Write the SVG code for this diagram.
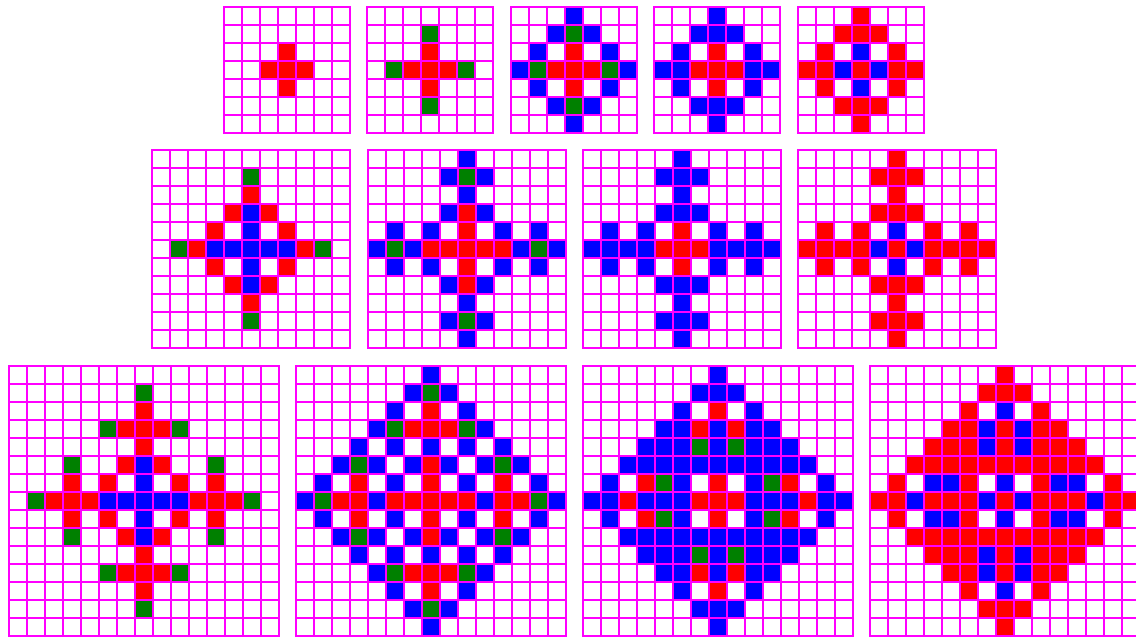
<svg xmlns="http://www.w3.org/2000/svg" width="1136" height="638" viewBox="0 0 1136 638">
<style>
.r{fill:#ff0000}.b{fill:#0000ff}.g{fill:#008000}
.bg{fill:#ffffff}
.ln{fill:url(#lines);stroke:#ff00ff;stroke-width:2}
</style>
<defs>
<pattern id="lines" width="18" height="18" patternUnits="userSpaceOnUse"><path d="M0.5 0V18M17.5 0V18M0 0.5H18M0 17.5H18" stroke="#ff00ff" stroke-width="1" fill="none"/></pattern>
<path id="u7" d="M54 0h18v126h-18zM36 18h54v18h-54zM36 90h54v18h-54zM0 54h126v18h-126zM18 36h18v54h-18zM90 36h18v54h-18z"/>
<path id="p7" d="M54 36h18v54h-18zM36 54h54v18h-54z"/>
<path id="g7" d="M54 18h18v18h-18zM18 54h18v18h-18zM90 54h18v18h-18zM54 90h18v18h-18z"/>
<path id="b5" d="M54 36h18v18h-18zM36 54h18v18h-18zM72 54h18v18h-18zM54 72h18v18h-18z"/>
<path id="u11" d="M90 0h18v198h-18zM72 18h54v18h-54zM72 54h54v18h-54zM72 126h54v18h-54zM72 162h54v18h-54zM0 90h198v18h-198zM18 72h18v54h-18zM54 72h18v54h-18zM126 72h18v54h-18zM162 72h18v54h-18z"/>
<path id="plus11" d="M90 54h18v90h-18zM54 90h90v18h-90z"/>
<path id="g11" d="M90 18h18v18h-18zM18 90h18v18h-18zM162 90h18v18h-18zM90 162h18v18h-18z"/>
<path id="u15" d="M126 0h18v18h-18zM108 18h54v18h-54zM90 36h18v18h-18zM126 36h18v18h-18zM162 36h18v18h-18zM72 54h126v18h-126zM54 72h162v18h-162zM36 90h198v18h-198zM18 108h18v54h-18zM54 108h54v54h-54zM126 108h18v54h-18zM162 108h54v54h-54zM234 108h18v54h-18zM0 126h270v18h-270zM36 162h198v18h-198zM54 180h162v18h-162zM72 198h126v18h-126zM90 216h18v18h-18zM126 216h18v18h-18zM162 216h18v18h-18zM108 234h54v18h-54zM126 252h18v18h-18z"/>
<path id="g15" d="M126 18h18v18h-18zM90 54h18v18h-18zM162 54h18v18h-18zM54 90h18v18h-18zM198 90h18v18h-18zM18 126h18v18h-18zM234 126h18v18h-18zM54 162h18v18h-18zM198 162h18v18h-18zM90 198h18v18h-18zM162 198h18v18h-18zM126 234h18v18h-18z"/>
</defs>
<rect width="1136" height="638" fill="#ffffff"/>

<g id="grid-1-1" transform="translate(224,7)">
<rect class="bg" width="126" height="126"/>
<use href="#p7" class="r"/>
<rect class="ln" width="126" height="126"/>
</g>
<g id="grid-1-2" transform="translate(367,7)">
<rect class="bg" width="126" height="126"/>
<use href="#p7" class="r"/>
<use href="#g7" class="g"/>
<rect class="ln" width="126" height="126"/>
</g>
<g id="grid-1-3" transform="translate(511,7)">
<rect class="bg" width="126" height="126"/>
<use href="#u7" class="b"/>
<use href="#p7" class="r"/>
<use href="#g7" class="g"/>
<rect class="ln" width="126" height="126"/>
</g>
<g id="grid-1-4" transform="translate(654,7)">
<rect class="bg" width="126" height="126"/>
<use href="#u7" class="b"/>
<use href="#p7" class="r"/>
<rect class="ln" width="126" height="126"/>
</g>
<g id="grid-1-5" transform="translate(798,7)">
<rect class="bg" width="126" height="126"/>
<use href="#u7" class="r"/>
<use href="#b5" class="b"/>
<rect class="ln" width="126" height="126"/>
</g>

<g id="grid-2-1" transform="translate(152,150)">
<rect class="bg" width="198" height="198"/>
<path class="r" d="M90 36h18v126h-18zM72 54h54v18h-54zM72 126h54v18h-54zM54 72h18v54h-18zM126 72h18v54h-18zM36 90h126v18h-126z"/>
<use href="#plus11" class="b"/>
<use href="#g11" class="g"/>
<rect class="ln" width="198" height="198"/>
</g>
<g id="grid-2-2" transform="translate(368,150)">
<rect class="bg" width="198" height="198"/>
<use href="#u11" class="b"/>
<use href="#plus11" class="r"/>
<use href="#g11" class="g"/>
<rect class="ln" width="198" height="198"/>
</g>
<g id="grid-2-3" transform="translate(583,150)">
<rect class="bg" width="198" height="198"/>
<use href="#u11" class="b"/>
<path class="r" d="M90 72h18v54h-18zM72 90h54v18h-54z"/>
<rect class="ln" width="198" height="198"/>
</g>
<g id="grid-2-4" transform="translate(798,150)">
<rect class="bg" width="198" height="198"/>
<use href="#u11" class="r"/>
<path class="b" d="M90 72h18v18h-18zM72 90h18v18h-18zM108 90h18v18h-18zM90 108h18v18h-18z"/>
<rect class="ln" width="198" height="198"/>
</g>

<g id="grid-3-1" transform="translate(9,366)">
<rect class="bg" width="270" height="270"/>
<path class="r" d="M126 36h18v198h-18zM108 54h54v18h-54zM108 90h54v18h-54zM108 162h54v18h-54zM108 198h54v18h-54zM54 108h18v54h-18zM90 108h18v54h-18zM162 108h18v54h-18zM198 108h18v54h-18zM36 126h198v18h-198z"/>
<path class="b" d="M126 90h18v90h-18zM90 126h90v18h-90z"/>
<use href="#g15" class="g"/>
<rect class="ln" width="270" height="270"/>
</g>
<g id="grid-3-2" transform="translate(296,366)">
<rect class="bg" width="270" height="270"/>
<path class="b" d="M126 0h18v270h-18zM108 18h54v18h-54zM108 234h54v18h-54zM90 36h18v18h-18zM162 36h18v18h-18zM90 216h18v18h-18zM162 216h18v18h-18zM72 54h126v18h-126zM72 198h126v18h-126zM54 72h18v126h-18zM198 72h18v126h-18zM90 72h18v18h-18zM162 72h18v18h-18zM90 180h18v18h-18zM162 180h18v18h-18zM36 90h54v18h-54zM108 90h54v18h-54zM180 90h54v18h-54zM36 162h54v18h-54zM108 162h54v18h-54zM180 162h54v18h-54zM18 108h18v54h-18zM90 108h18v54h-18zM162 108h18v54h-18zM234 108h18v54h-18zM0 126h270v18h-270z"/>
<path class="r" d="M126 36h18v18h-18zM108 54h54v18h-54zM126 90h18v90h-18zM54 108h18v54h-18zM198 108h18v54h-18zM36 126h18v18h-18zM90 126h90v18h-90zM216 126h18v18h-18zM108 198h54v18h-54zM126 216h18v18h-18z"/>
<use href="#g15" class="g"/>
<rect class="ln" width="270" height="270"/>
</g>
<g id="grid-3-3" transform="translate(583,366)">
<rect class="bg" width="270" height="270"/>
<use href="#u15" class="b"/>
<path class="r" d="M126 36h18v18h-18zM108 54h18v18h-18zM144 54h18v18h-18zM54 108h18v18h-18zM126 108h18v54h-18zM198 108h18v18h-18zM36 126h18v18h-18zM108 126h54v18h-54zM216 126h18v18h-18zM54 144h18v18h-18zM198 144h18v18h-18zM108 198h18v18h-18zM144 198h18v18h-18zM126 216h18v18h-18z"/>
<path class="g" d="M108 72h18v18h-18zM144 72h18v18h-18zM72 108h18v18h-18zM180 108h18v18h-18zM72 144h18v18h-18zM180 144h18v18h-18zM108 180h18v18h-18zM144 180h18v18h-18z"/>
<rect class="ln" width="270" height="270"/>
</g>
<g id="grid-3-4" transform="translate(870,366)">
<rect class="bg" width="270" height="270"/>
<use href="#u15" class="r"/>
<path class="b" d="M126 36h18v18h-18zM108 54h18v36h-18zM144 54h18v36h-18zM54 108h36v18h-36zM126 108h18v18h-18zM180 108h36v18h-36zM36 126h18v18h-18zM108 126h18v18h-18zM144 126h18v18h-18zM216 126h18v18h-18zM54 144h36v18h-36zM126 144h18v18h-18zM180 144h36v18h-36zM108 180h18v36h-18zM144 180h18v36h-18zM126 216h18v18h-18z"/>
<rect class="ln" width="270" height="270"/>
</g>
</svg>
